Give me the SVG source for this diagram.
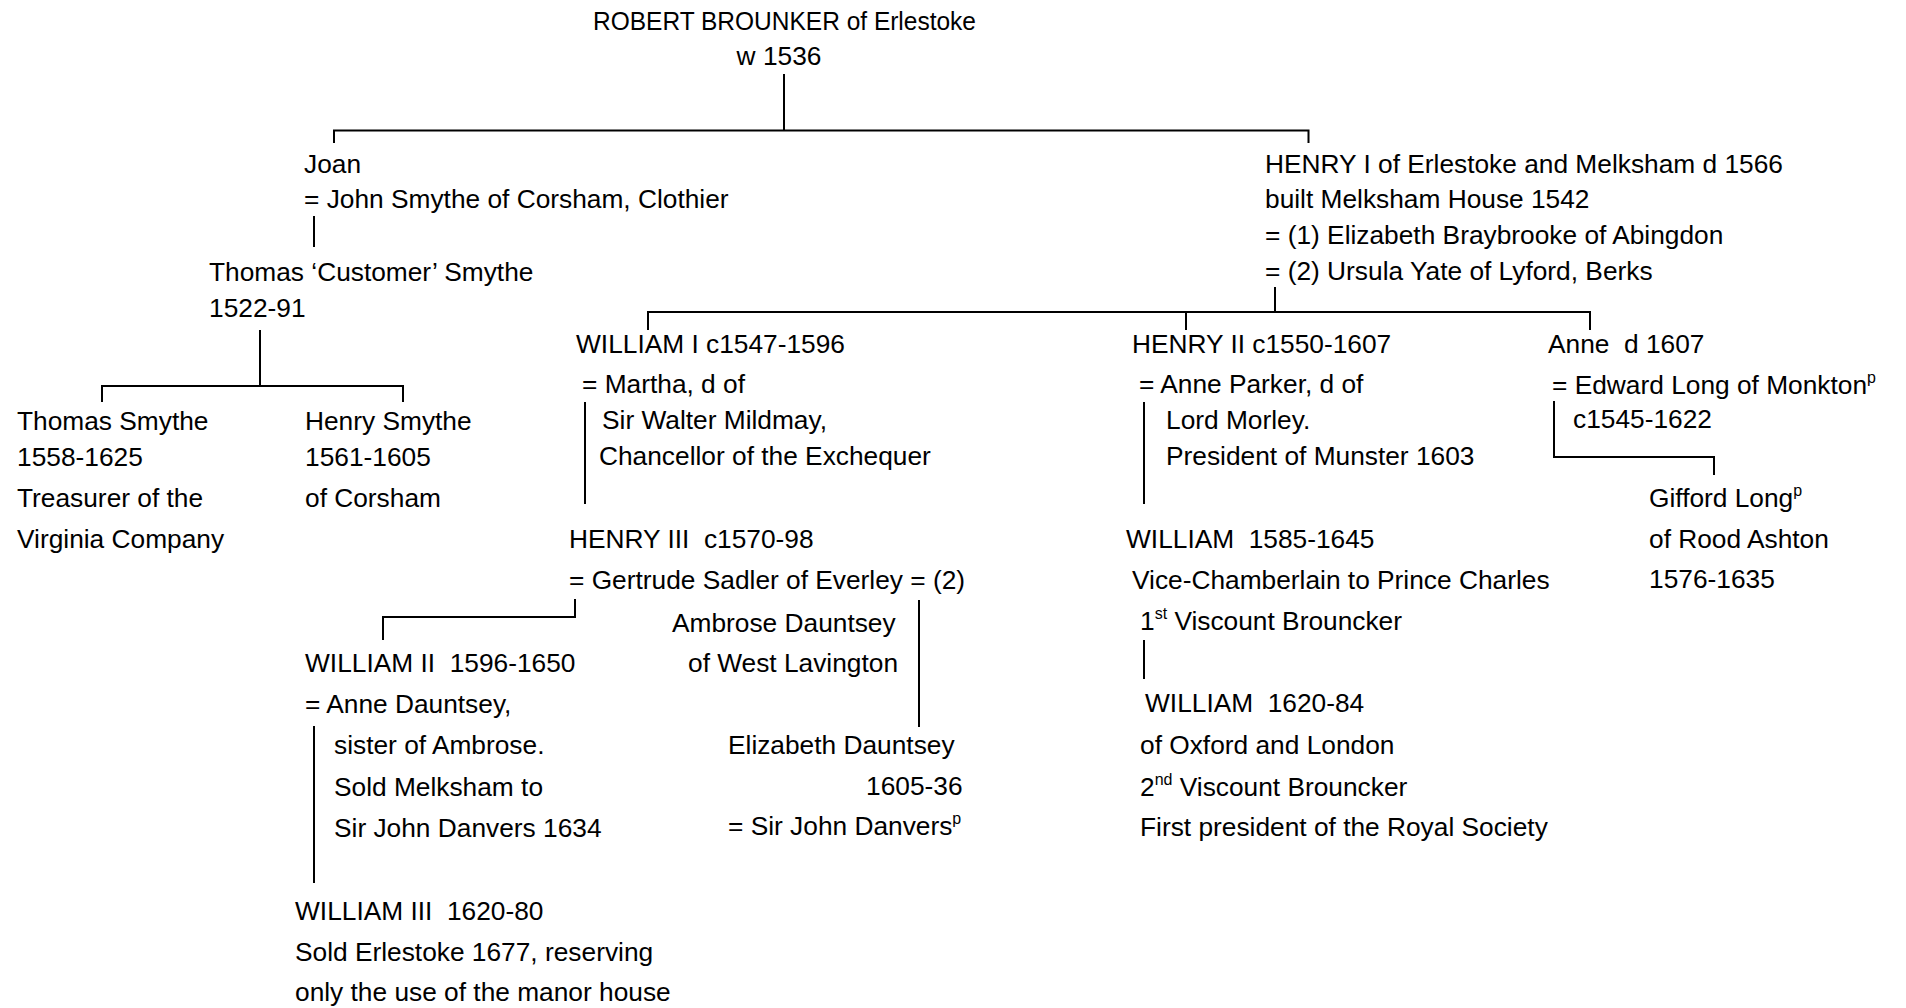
<svg xmlns="http://www.w3.org/2000/svg" width="1906" height="1008" viewBox="0 0 1906 1008">
<style>
text{font-family:"Liberation Sans",Arial,sans-serif;font-size:26.3px;fill:#000}
.c{text-anchor:middle}
.sup{font-size:16px}
#connectors path{fill:none;stroke:#000;stroke-width:2}
</style>
<rect width="1906" height="1008" fill="#fff"/>
<g id="connectors">
<path d="M784 74V130.5"/>
<path d="M334 143V130.5H1308.5V143"/>
<path d="M314 216V247"/>
<path d="M260 330V386"/>
<path d="M102 402V386H403V402"/>
<path d="M1275 287V312"/>
<path d="M648 330V312H1590V330"/>
<path d="M1186 312V330"/>
<path d="M585 402V504"/>
<path d="M575 599V617H383V640"/>
<path d="M919 600V727"/>
<path d="M314 726V883"/>
<path d="M1144 402V504"/>
<path d="M1144 640V679"/>
<path d="M1554 401V457H1714V475"/>
</g>
<g id="robert">
<text x="593" y="30" textLength="383" lengthAdjust="spacingAndGlyphs">ROBERT BROUNKER of Erlestoke</text>
<text class="c" x="779" y="65">w 1536</text>
</g>
<g id="joan">
<text x="304" y="173">Joan</text>
<text x="304" y="208">= John Smythe of Corsham, Clothier</text>
</g>
<g id="henry1">
<text x="1265" y="173">HENRY I of Erlestoke and Melksham d 1566</text>
<text x="1265" y="208">built Melksham House 1542</text>
<text x="1265" y="244">= (1) Elizabeth Braybrooke of Abingdon</text>
<text x="1265" y="280">= (2) Ursula Yate of Lyford, Berks</text>
</g>
<g id="thomas-customer">
<text x="209" y="281">Thomas ‘Customer’ Smythe</text>
<text x="209" y="317">1522-91</text>
</g>
<g id="thomas-smythe">
<text x="17" y="430">Thomas Smythe</text>
<text x="17" y="466">1558-1625</text>
<text x="17" y="507">Treasurer of the</text>
<text x="17" y="548">Virginia Company</text>
</g>
<g id="henry-smythe">
<text x="305" y="430">Henry Smythe</text>
<text x="305" y="466">1561-1605</text>
<text x="305" y="507">of Corsham</text>
</g>
<g id="william1">
<text x="576" y="353">WILLIAM I c1547-1596</text>
<text x="582" y="393">= Martha, d of</text>
<text x="602" y="429">Sir Walter Mildmay,</text>
<text x="599" y="465">Chancellor of the Exchequer</text>
</g>
<g id="henry2">
<text x="1132" y="353">HENRY II c1550-1607</text>
<text x="1139" y="393">= Anne Parker, d of</text>
<text x="1166" y="429">Lord Morley.</text>
<text x="1166" y="465">President of Munster 1603</text>
</g>
<g id="anne">
<text x="1548" y="353" xml:space="preserve">Anne  d 1607</text>
<text x="1552" y="394">= Edward Long of Monkton<tspan class="sup" dy="-11">p</tspan></text>
<text x="1573" y="428">c1545-1622</text>
</g>
<g id="gifford">
<text x="1649" y="507">Gifford Long<tspan class="sup" dy="-11">p</tspan></text>
<text x="1649" y="548">of Rood Ashton</text>
<text x="1649" y="588">1576-1635</text>
</g>
<g id="henry3">
<text x="569" y="548" xml:space="preserve">HENRY III  c1570-98</text>
<text x="569" y="589">= Gertrude Sadler of Everley = (2)</text>
</g>
<g id="ambrose">
<text x="672" y="632">Ambrose Dauntsey</text>
<text x="688" y="672">of West Lavington</text>
</g>
<g id="william-1585">
<text x="1126" y="548" xml:space="preserve">WILLIAM  1585-1645</text>
<text x="1132" y="589">Vice-Chamberlain to Prince Charles</text>
<text x="1140" y="630">1<tspan class="sup" dy="-11">st</tspan><tspan dy="11"> Viscount Brouncker</tspan></text>
</g>
<g id="william2">
<text x="305" y="672" xml:space="preserve">WILLIAM II  1596-1650</text>
<text x="305" y="713">= Anne Dauntsey,</text>
<text x="334" y="754">sister of Ambrose.</text>
<text x="334" y="796">Sold Melksham to</text>
<text x="334" y="837">Sir John Danvers 1634</text>
</g>
<g id="elizabeth">
<text x="728" y="754">Elizabeth Dauntsey</text>
<text x="866" y="795">1605-36</text>
<text x="728" y="835">= Sir John Danvers<tspan class="sup" dy="-11">p</tspan></text>
</g>
<g id="william-1620">
<text x="1145" y="712" xml:space="preserve">WILLIAM  1620-84</text>
<text x="1140" y="754">of Oxford and London</text>
<text x="1140" y="796">2<tspan class="sup" dy="-11">nd</tspan><tspan dy="11"> Viscount Brouncker</tspan></text>
<text x="1140" y="836">First president of the Royal Society</text>
</g>
<g id="william3">
<text x="295" y="920" xml:space="preserve">WILLIAM III  1620-80</text>
<text x="295" y="961">Sold Erlestoke 1677, reserving</text>
<text x="295" y="1001">only the use of the manor house</text>
</g>
</svg>
